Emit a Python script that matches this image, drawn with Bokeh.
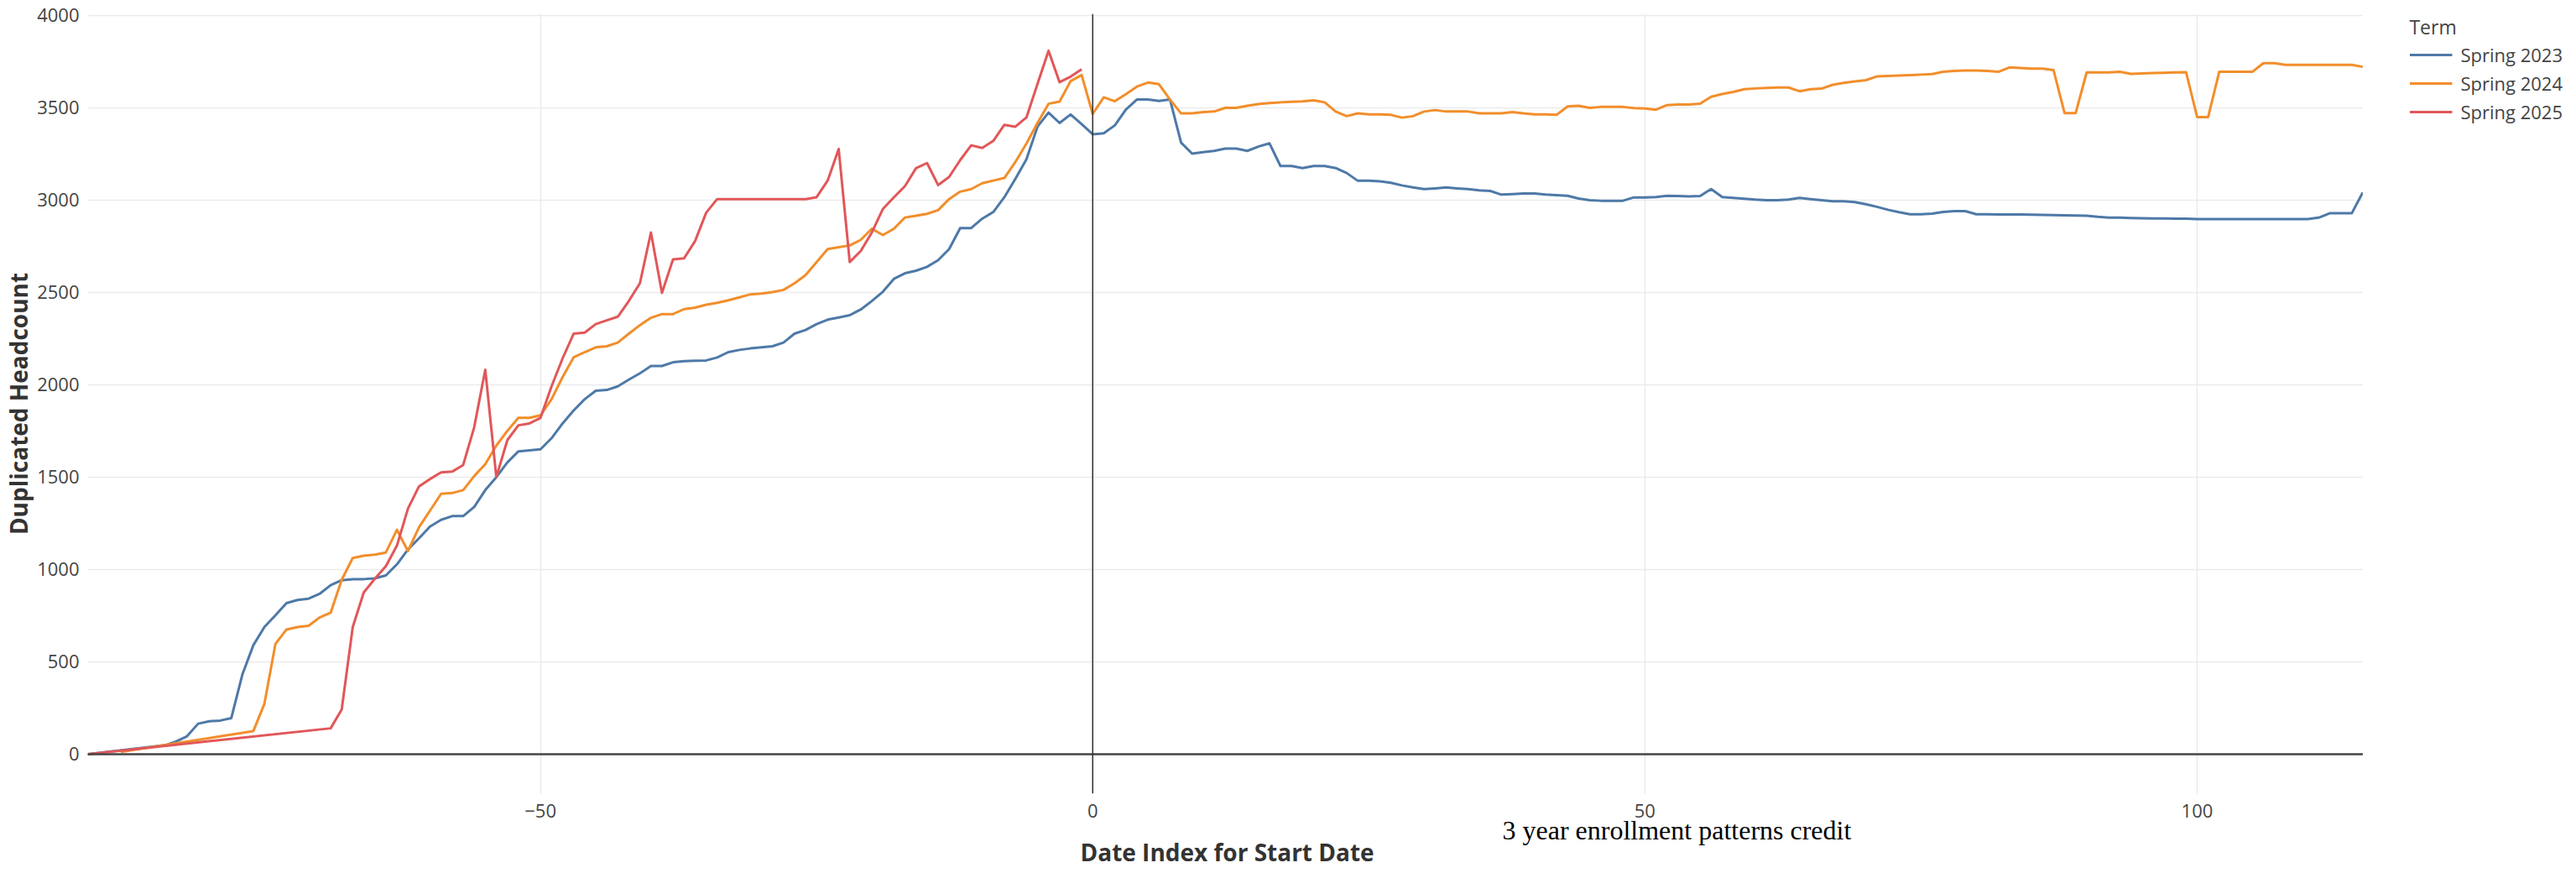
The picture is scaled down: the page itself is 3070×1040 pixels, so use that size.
from bokeh.plotting import figure
from bokeh.models import Range1d, FixedTicker, Span, Legend, LegendItem, Title, BoxAnnotation
from bokeh.embed import file_html
from bokeh.resources import INLINE

# ---------------- data ----------------
terms = ["Spring 2023", "Spring 2024", "Spring 2025"]
colors = ["#4e79a7", "#f28e2b", "#e15759"]

x_2023 = [-91, -84, -83, -82, -81, -80, -79, -78, -77, -76, -75, -74, -73, -72, -71, -70,
          -69, -68, -67, -66, -65, -64, -63, -62, -61, -60, -59, -58, -57, -56, -55, -54,
          -53, -52, -51, -50, -49, -48, -47, -46, -45, -44, -43, -42, -41, -40, -39, -38,
          -37, -36, -35, -34, -33, -32, -31, -30, -29, -28, -27, -26, -25, -24, -23, -22,
          -21, -20, -19, -18, -17, -16, -15, -14, -13, -12, -11, -10, -9, -8, -7, -6, -5,
          -4, -3, -2, -1, 0, 1, 2, 3, 4, 5, 6, 7, 8, 9, 10, 11, 12, 13, 14, 15, 16, 17, 18,
          19, 20, 21, 22, 23, 24, 25, 26, 27, 28, 29, 30, 31, 32, 33, 34, 35, 36, 37, 38,
          39, 40, 41, 42, 43, 44, 45, 46, 47, 48, 49, 50, 51, 52, 53, 54, 55, 56, 57, 58,
          59, 60, 61, 62, 63, 64, 65, 66, 67, 68, 69, 70, 71, 72, 73, 74, 75, 76, 77, 78,
          79, 80, 81, 82, 83, 84, 85, 86, 87, 88, 89, 90, 91, 92, 93, 94, 95, 96, 97, 98,
          99, 100, 101, 102, 103, 104, 105, 106, 107, 108, 109, 110, 111, 112, 113, 114, 115]
y_2023 = [0, 48, 68, 97, 165, 178, 182, 195, 430, 590, 688, 752, 818, 835, 842, 868,
          915, 942, 947, 948, 952, 968, 1028, 1108, 1169, 1233, 1269, 1289, 1289, 1339, 1430, 1500,
          1580, 1640, 1645, 1651, 1711, 1791, 1861, 1922, 1968, 1972, 1992, 2028, 2062, 2102, 2102, 2122,
          2128, 2130, 2132, 2148, 2177, 2189, 2197, 2203, 2209, 2229, 2277, 2297, 2329, 2353, 2365, 2377,
          2408, 2454, 2504, 2574, 2604, 2618, 2639, 2675, 2735, 2849, 2849, 2900, 2936, 3016, 3116, 3221, 3398,
          3474, 3418, 3464, 3412, 3357, 3362, 3405, 3490, 3545, 3545, 3537, 3545, 3312, 3252, 3260, 3267, 3279, 3279, 3267, 3290, 3308, 3185, 3185,
          3174, 3185, 3185, 3174, 3147, 3105, 3105, 3102, 3094, 3080, 3069, 3060, 3064, 3069, 3064, 3060, 3053, 3050, 3030, 3033,
          3036, 3036, 3030, 3027, 3024, 3009, 3000, 2997, 2997, 2997, 3015, 3015, 3017, 3024, 3023, 3020, 3023, 3060, 3017, 3012,
          3008, 3003, 3000, 3000, 3003, 3012, 3006, 3000, 2994, 2994, 2990, 2978, 2964, 2948, 2935, 2924, 2924, 2927, 2936, 2941,
          2941, 2924, 2924, 2923, 2922, 2922, 2921, 2920, 2919, 2918, 2917, 2916, 2910, 2906, 2905, 2903, 2902, 2901, 2901, 2900,
          2900, 2898, 2898, 2898, 2898, 2898, 2898, 2898, 2898, 2898, 2898, 2898, 2905, 2929, 2929, 2929, 3042]

x_2024 = [-88, -76, -75, -74, -73, -72, -71, -70, -69, -68, -67, -66, -65, -64, -63, -62,
          -61, -60, -59, -58, -57, -56, -55, -54, -53, -52, -51, -50, -49, -48, -47, -46,
          -45, -44, -43, -42, -41, -40, -39, -38, -37, -36, -35, -34, -33, -32, -31, -30,
          -29, -28, -27, -26, -25, -24, -23, -22, -21, -20, -19, -18, -17, -16, -15, -14,
          -13, -12, -11, -10, -9, -8, -7, -6, -5, -4, -3, -2, -1, 0, 1, 2, 3, 4, 5, 6, 7,
          8, 9, 10, 11, 12, 13, 14, 15, 16, 17, 18, 19, 20, 21, 22, 23, 24, 25, 26, 27, 28,
          29, 30, 31, 32, 33, 34, 35, 36, 37, 38, 39, 40, 41, 42, 43, 44, 45, 46, 47, 48,
          49, 50, 51, 52, 53, 54, 55, 56, 57, 58, 59, 60, 61, 62, 63, 64, 65, 66, 67, 68,
          69, 70, 71, 72, 73, 74, 75, 76, 77, 78, 79, 80, 81, 82, 83, 84, 85, 86, 87, 88,
          89, 90, 91, 92, 93, 94, 95, 96, 97, 98, 99, 100, 101, 102, 103, 104, 105, 106, 107,
          108, 109, 110, 111, 112, 113, 114, 115]
y_2024 = [12, 125, 272, 597, 675, 688, 695, 740, 766, 944, 1062, 1075, 1080, 1092, 1215, 1100,
          1229, 1319, 1410, 1414, 1430, 1506, 1570, 1671, 1751, 1821, 1821, 1835, 1922, 2042, 2149, 2177,
          2203, 2209, 2229, 2277, 2323, 2363, 2383, 2383, 2410, 2418, 2434, 2444, 2458, 2474, 2490, 2494,
          2502, 2514, 2550, 2594, 2665, 2735, 2745, 2755, 2785, 2845, 2811, 2845, 2906, 2916, 2926, 2946,
          3006, 3046, 3060, 3092, 3106, 3120, 3207, 3307, 3418, 3522, 3534, 3645, 3678, 3467, 3557, 3536, 3574, 3615, 3637, 3628, 3545,
          3470, 3470, 3477, 3480, 3500, 3500, 3511, 3520, 3526, 3530, 3533, 3535, 3541, 3530, 3480, 3455, 3470, 3465, 3465, 3462, 3447,
          3455, 3480, 3488, 3480, 3480, 3480, 3470, 3470, 3470, 3477, 3470, 3465, 3465, 3462, 3508, 3511, 3500, 3505, 3505, 3505,
          3499, 3496, 3490, 3515, 3518, 3518, 3523, 3560, 3575, 3586, 3601, 3605, 3608, 3610, 3610, 3590, 3601, 3604, 3625, 3635,
          3643, 3650, 3670, 3673, 3675, 3677, 3680, 3683, 3695, 3700, 3702, 3702, 3700, 3695, 3719, 3716, 3712, 3712, 3704, 3471,
          3471, 3692, 3692, 3692, 3695, 3684, 3686, 3689, 3690, 3692, 3693, 3450, 3450, 3695, 3695, 3695, 3695, 3742, 3742,
          3733, 3733, 3733, 3733, 3733, 3733, 3733, 3722]

x_2025 = [-91, -69, -68, -67, -66, -65, -64, -63, -62, -61, -60, -59, -58, -57, -56, -55,
          -54, -53, -52, -51, -50, -49, -48, -47, -46, -45, -44, -43, -42, -41, -40, -39,
          -38, -37, -36, -35, -34, -33, -32, -31, -30, -29, -28, -27, -26, -25, -24, -23,
          -22, -21, -20, -19, -18, -17, -16, -15, -14, -13, -12, -11, -10, -9, -8, -7, -6,
          -5, -4, -3, -2, -1]
y_2025 = [0, 140, 242, 688, 876, 950, 1018, 1129, 1330, 1450, 1490, 1526, 1530, 1566, 1771, 2082,
          1500, 1701, 1781, 1791, 1821, 1992, 2143, 2277, 2283, 2329, 2349, 2369, 2454, 2550, 2825, 2498,
          2679, 2685, 2779, 2932, 3006, 3006, 3006, 3006, 3006, 3006, 3006, 3006, 3006, 3016, 3106, 3277,
          2665, 2725, 2825, 2952, 3016, 3076, 3173, 3201, 3082, 3126, 3217, 3297, 3283, 3321, 3408, 3398, 3448,
          3629, 3809, 3639, 3669, 3709]

x_ticks = [-50, 0, 50, 100]
y_ticks = [0, 500, 1000, 1500, 2000, 2500, 3000, 3500, 4000]

x_title = "Date Index for Start Date"
y_title = "Duplicated Headcount"
caption_text = "3 year enrollment patterns credit"
legend_title = "Term"

# ---------------- layout constants (pixels) ----------------
FONT = "Open Sans"
W, H = 3054, 1032
LEFT, TOP, BOTTOM = 99, 16, 87
DATA_W = 2716                       # width of the data area inside the frame
x_lo, x_hi = min(x_2023), max(x_2023)
x_pad = (W - LEFT - DATA_W) * (x_hi - x_lo) / DATA_W   # room for the legend to the right

p = figure(width=W, height=H, output_backend="svg", toolbar_location=None,
           x_range=Range1d(x_lo, x_hi + x_pad), y_range=Range1d(-214, 4009),
           min_border_left=LEFT, min_border_right=0, min_border_top=TOP, min_border_bottom=BOTTOM)
p.outline_line_color = None
p.background_fill_color = "white"

for ax in (p.xaxis[0], p.yaxis[0]):
    ax.axis_line_color = None
    ax.major_tick_line_color = None
    ax.minor_tick_line_color = None
    ax.major_tick_out = 0
    ax.major_tick_in = 0
    ax.major_label_text_font = FONT
    ax.major_label_text_font_size = "22px"
    ax.major_label_text_color = "#444444"

p.xaxis.ticker = FixedTicker(ticks=x_ticks)
p.yaxis.ticker = FixedTicker(ticks=y_ticks)
p.xaxis.major_label_standoff = 12
p.yaxis.major_label_standoff = 10
p.yaxis.axis_label = y_title
p.yaxis.axis_label_text_font = FONT
p.yaxis.axis_label_text_font_style = "bold"
p.yaxis.axis_label_text_color = "#333333"
p.yaxis.axis_label_text_font_size = "28px"
p.yaxis.axis_label_standoff = 0

p.xgrid.ticker = FixedTicker(ticks=x_ticks)
p.ygrid.ticker = FixedTicker(ticks=y_ticks)
p.xgrid.grid_line_color = "#ebebeb"
p.ygrid.grid_line_color = "#ebebeb"
p.xgrid.grid_line_width = 1.5
p.ygrid.grid_line_width = 1.5

p.add_layout(Span(location=0, dimension="width", line_color="#444444", line_width=2.5))
p.add_layout(Span(location=0, dimension="height", line_color="#333333", line_width=1.5))

renderers = []
for xs, ys, c in [(x_2023, y_2023, colors[0]), (x_2024, y_2024, colors[1]), (x_2025, y_2025, colors[2])]:
    r = p.line(xs, ys, line_color=c, line_width=3, line_join="round")
    renderers.append(r)

# white margin to the right of the data area (grid and zero line stop at the last date)
p.add_layout(BoxAnnotation(left=x_hi, fill_color="white", fill_alpha=1.0, line_color=None))

# caption and x-axis title stacked below the tick labels
cap = Title(text=caption_text, align="left", offset=1686, standoff=-16,
            text_font="Liberation Serif", text_font_size="32px",
            text_font_style="normal", text_color="#000000")
p.add_layout(cap, "below")
xt = Title(text=x_title, align="left", offset=1183, standoff=-10,
           text_font=FONT, text_font_size="28px", text_font_style="bold", text_color="#333333")
p.add_layout(xt, "below")

legend = Legend(items=[LegendItem(label=t, renderers=[r]) for t, r in zip(terms, renderers)],
                location="top_right", margin=0, title=legend_title,
                title_text_font=FONT, title_text_font_size="23px", title_text_color="#444444",
                title_text_font_style="normal", title_standoff=2,
                label_text_font=FONT, label_text_font_size="22px", label_text_color="#444444",
                glyph_width=51, glyph_height=28, label_height=28, spacing=4, padding=16,
                border_line_color=None, background_fill_alpha=0, label_standoff=10)
p.add_layout(legend, "center")

open("out.html", "w").write(file_html(p, INLINE))
